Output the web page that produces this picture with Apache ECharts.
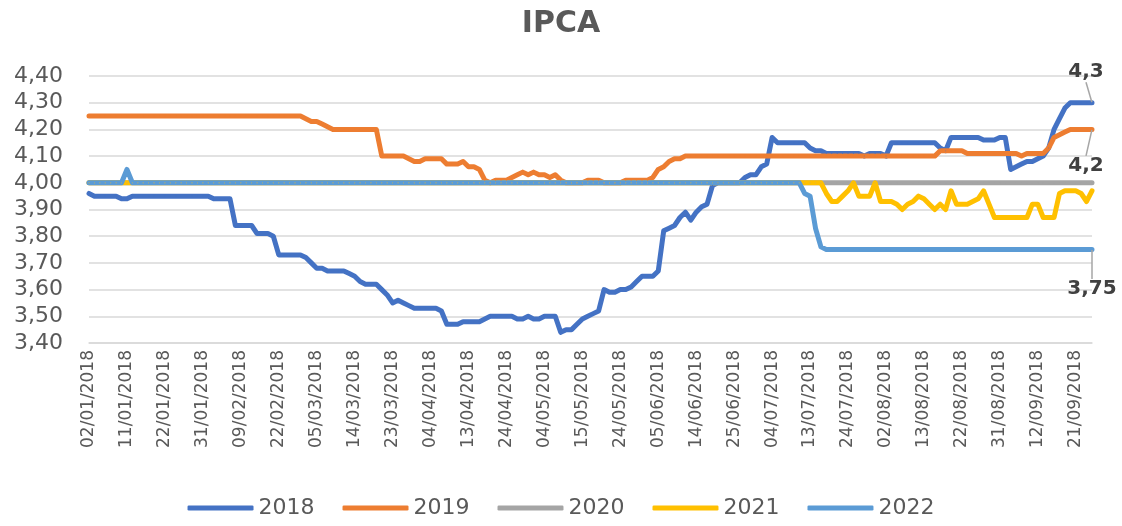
<!DOCTYPE html>
<html>
<head>
<meta charset="utf-8">
<title>IPCA</title>
<script src="https://cdn.jsdelivr.net/npm/echarts@6/dist/echarts.min.js"></script>
<style>
  html, body { margin: 0; padding: 0; background: #fff; }
  #chart { width: 1122px; height: 526px; }
</style>
</head>
<body>
<div id="chart"></div>
<script>
// business days of 2018 (B3 calendar)
const firstDay = '2018-01-02';
const lastDay = '2018-09-26';
const holidays = ['2018-02-12', '2018-02-13', '2018-03-30', '2018-05-01', '2018-05-31', '2018-09-07'];

const seriesNames = ['2018', '2019', '2020', '2021', '2022'];

// values, as [value, number of days it holds]
const runs2018 = [
  [3.96, 1], [3.95, 5], [3.94, 2], [3.95, 15], [3.94, 4], [3.84, 4], [3.81, 3], [3.80, 1],
  [3.73, 5], [3.72, 1], [3.70, 1], [3.68, 2], [3.67, 4], [3.66, 1], [3.65, 1], [3.63, 1],
  [3.62, 3], [3.60, 1], [3.58, 1], [3.55, 1], [3.56, 1], [3.55, 1], [3.54, 1], [3.53, 5],
  [3.52, 1], [3.47, 3], [3.48, 4], [3.49, 1], [3.50, 5], [3.49, 2], [3.50, 1], [3.49, 2],
  [3.50, 3], [3.44, 1], [3.45, 2], [3.47, 1], [3.49, 1], [3.50, 1], [3.51, 1], [3.52, 1],
  [3.60, 1], [3.59, 2], [3.60, 2], [3.61, 1], [3.63, 1], [3.65, 3], [3.67, 1], [3.82, 1],
  [3.83, 1], [3.84, 1], [3.87, 1], [3.89, 1], [3.86, 1], [3.89, 1], [3.91, 1], [3.92, 1],
  [3.99, 1], [4.00, 5], [4.02, 1], [4.03, 2], [4.06, 1], [4.07, 1], [4.17, 1], [4.15, 6],
  [4.13, 1], [4.12, 2], [4.11, 7], [4.10, 1], [4.11, 3], [4.10, 1], [4.15, 9], [4.13, 1],
  [4.12, 1], [4.17, 6], [4.16, 3], [4.17, 2], [4.05, 1], [4.06, 1], [4.07, 1], [4.08, 2],
  [4.09, 1], [4.10, 1], [4.13, 1], [4.20, 1], [4.24, 1], [4.28, 1], [4.30, 5]
];
const runs2019 = [
  [4.25, 40], [4.24, 1], [4.23, 2], [4.22, 1], [4.21, 1], [4.20, 9], [4.10, 5], [4.09, 1],
  [4.08, 2], [4.09, 4], [4.07, 3], [4.08, 1], [4.06, 2], [4.05, 1], [4.01, 1], [4.00, 1],
  [4.01, 3], [4.02, 1], [4.03, 1], [4.04, 1], [4.03, 1], [4.04, 1], [4.03, 2], [4.02, 1],
  [4.03, 1], [4.01, 1], [4.00, 4], [4.01, 3], [4.00, 4], [4.01, 5], [4.02, 1], [4.05, 1],
  [4.06, 1], [4.08, 1], [4.09, 2], [4.10, 47], [4.12, 5], [4.11, 10], [4.10, 1], [4.11, 4],
  [4.13, 1], [4.17, 1], [4.18, 1], [4.19, 1], [4.20, 5]
];
const runs2020 = [[4.00, 186]];
const runs2021 = [
  [4.00, 136], [3.96, 1], [3.93, 2], [3.95, 1], [3.97, 1], [4.00, 1], [3.95, 3], [4.00, 1],
  [3.93, 3], [3.92, 1], [3.90, 1], [3.92, 1], [3.93, 1], [3.95, 1], [3.94, 1], [3.92, 1],
  [3.90, 1], [3.92, 1], [3.90, 1], [3.97, 1], [3.92, 3], [3.93, 1], [3.94, 1], [3.97, 1],
  [3.92, 1], [3.87, 7], [3.92, 2], [3.87, 3], [3.96, 1], [3.97, 3], [3.96, 1], [3.93, 1],
  [3.97, 1]
];
const runs2022 = [
  [4.00, 7], [4.05, 1], [4.00, 124], [3.96, 1], [3.95, 1], [3.83, 1], [3.76, 1], [3.75, 50]
];

const yTicks = [3.4, 4.4, 0.1]; // min, max, step

function businessDays(from, to, skip) {
  const out = [];
  const d = new Date(from + 'T00:00:00Z');
  const end = new Date(to + 'T00:00:00Z');
  while (d <= end) {
    const iso = d.toISOString().slice(0, 10);
    const wd = d.getUTCDay();
    if (wd !== 0 && wd !== 6 && skip.indexOf(iso) < 0) {
      out.push(iso.slice(8, 10) + '/' + iso.slice(5, 7) + '/' + iso.slice(0, 4));
    }
    d.setUTCDate(d.getUTCDate() + 1);
  }
  return out;
}

function expand(runs) {
  const out = [];
  runs.forEach(([v, n]) => {
    for (let k = 0; k < n; k++) out.push(v);
  });
  return out;
}

const dates = businessDays(firstDay, lastDay, holidays);
const comma = v => String(v).replace('.', ',');

function makeSeries(name, runs, color, end) {
  const vals = expand(runs);
  const data = vals.map((v, i) => {
    if (!end || i !== vals.length - 1) return v;
    return {
      value: v,
      label: {
        show: true,
        position: end.position,
        distance: 4,
        formatter: p => comma(p.value),
        fontFamily: 'DejaVu Sans',
        fontSize: 20,
        fontWeight: 'bold',
        color: '#404040'
      }
    };
  });
  const s = {
    name: name,
    type: 'line',
    data: data,
    symbol: 'circle',
    symbolSize: 1,
    showSymbol: true,
    showAllSymbol: true,
    itemStyle: { color: color },
    lineStyle: { color: color, width: 5, cap: 'round', join: 'round' },
    emphasis: { disabled: true }
  };
  if (end) {
    s.labelLayout = { dx: end.dx, dy: end.dy };
    s.labelLine = { show: true, lineStyle: { color: '#A6A6A6', width: 1.5 } };
  }
  return s;
}

const chart = echarts.init(document.getElementById('chart'));

chart.setOption({
  animation: false,
  backgroundColor: '#ffffff',
  textStyle: { fontFamily: 'DejaVu Sans' },
  title: {
    text: 'IPCA',
    left: 'center',
    top: 4,
    textStyle: { fontFamily: 'DejaVu Sans', fontSize: 30, fontWeight: 'bold', color: '#595959' }
  },
  legend: {
    data: seriesNames,
    bottom: 2,
    left: 'center',
    icon: 'roundRect',
    itemWidth: 66,
    itemHeight: 5,
    itemGap: 28,
    textStyle: { fontFamily: 'DejaVu Sans', fontSize: 22, color: '#595959' }
  },
  grid: { left: 89, right: 30, top: 76, bottom: 183 },
  xAxis: {
    type: 'category',
    boundaryGap: false,
    data: dates,
    axisTick: { show: false },
    axisLine: { lineStyle: { color: '#D9D9D9', width: 1.5 } },
    axisLabel: {
      interval: 6,
      rotate: 90,
      margin: 7,
      fontFamily: 'DejaVu Sans',
      fontSize: 17,
      color: '#595959'
    }
  },
  yAxis: {
    type: 'value',
    min: yTicks[0],
    max: yTicks[1],
    interval: yTicks[2],
    axisLine: { show: false },
    axisTick: { show: false },
    splitLine: { lineStyle: { color: '#D9D9D9', width: 1.5 } },
    axisLabel: {
      margin: 26,
      fontFamily: 'DejaVu Sans',
      fontSize: 22,
      color: '#595959',
      formatter: v => v.toFixed(2).replace('.', ',')
    }
  },
  series: [
    makeSeries('2018', runs2018, '#4472C4', { position: 'top', dx: -6, dy: -16 }),
    makeSeries('2019', runs2019, '#ED7D31', { position: 'bottom', dx: -6, dy: 22 }),
    makeSeries('2020', runs2020, '#A5A5A5', null),
    makeSeries('2021', runs2021, '#FFC000', null),
    makeSeries('2022', runs2022, '#5B9BD5', { position: 'bottom', dx: 0, dy: 25 })
  ]
});
</script>
</body>
</html>
